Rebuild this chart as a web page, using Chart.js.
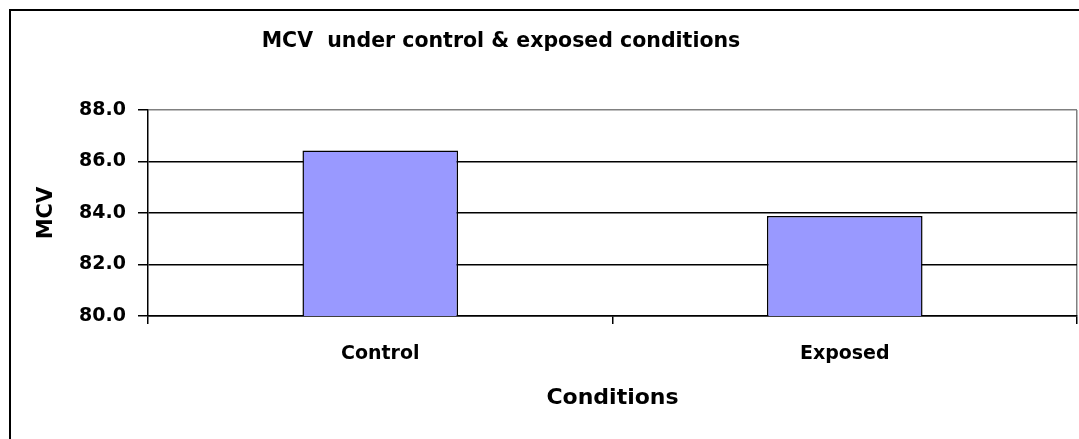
<!DOCTYPE html>
<html>
<head>
<meta charset="utf-8">
<title>MCV under control & exposed conditions</title>
<script src="https://cdn.jsdelivr.net/npm/chart.js@4.4.0/dist/chart.umd.min.js"></script>
<style>
  html, body { margin: 0; padding: 0; background: #fff; }
  canvas { display: block; }
</style>
</head>
<body>
<canvas id="myChart" width="1079" height="439"></canvas>
<script>
const categorias = ['Control', 'Exposed'];
const valoresMCV = [86.43, 83.88];
const tituloGrafica = 'MCV  under control & exposed conditions';
const tituloEjeX = 'Conditions';
const tituloEjeY = 'MCV';

const FUENTE = "'DejaVu Sans', sans-serif";

// marco del grafico y titulo (como en Excel)
const marcoPlugin = {
  id: 'marco',
  beforeDraw(chart) {
    const c = chart.ctx;
    c.save();
    c.fillStyle = '#fff';
    c.fillRect(0, 0, chart.width, chart.height);
    c.strokeStyle = '#000';
    c.lineWidth = 2;
    c.beginPath();
    c.moveTo(10, chart.height);
    c.lineTo(10, 10);
    c.lineTo(chart.width, 10);
    c.stroke();
    c.restore();
  },
  afterDraw(chart) {
    const c = chart.ctx;
    c.save();
    c.fillStyle = '#000';
    c.font = "bold 20.5px " + FUENTE;
    c.textAlign = 'center';
    c.textBaseline = 'middle';
    c.fillText(tituloGrafica, 501, 42);
    c.restore();
  }
};

(() => {
  'use strict'

  const ctx = document.getElementById('myChart')
  // eslint-disable-next-line no-unused-vars
  const myChart = new Chart(ctx, {
    type: 'bar',
    data: {
      labels: categorias,
      datasets: [{
        data: valoresMCV,
        backgroundColor: '#9999FF',
        borderColor: '#000000',
        borderWidth: 1.5,
        barPercentage: 0.335,
        categoryPercentage: 1
      }]
    },
    options: {
      responsive: false,
      animation: false,
      devicePixelRatio: 1,
      layout: {
        padding: { top: 110, right: 2, bottom: 0, left: 0 }
      },
      scales: {
        x: {
          afterFit: (scale) => { scale.height = 123 },
          grid: {
            offset: true,
            drawOnChartArea: true,
            color: (c) => c.type === 'tick' ? 'rgba(0,0,0,0)' : '#808080',
            tickColor: '#000',
            tickLength: 8,
            lineWidth: 1.5
          },
          border: { display: true, color: '#000', width: 1.5 },
          ticks: {
            color: '#000',
            padding: 19,
            font: { family: FUENTE, size: 19, weight: 'bold' }
          },
          title: {
            display: true,
            text: tituloEjeX,
            color: '#000',
            padding: { top: 0, bottom: 28 },
            font: { family: FUENTE, size: 22, weight: 'bold' }
          }
        },
        y: {
          min: 80,
          max: 88,
          afterFit: (scale) => { scale.width = 148 },
          grid: {
            color: (c) => c.tick && c.tick.value === 88 ? '#808080' : '#000',
            tickColor: '#000',
            tickLength: 10,
            lineWidth: 1.5
          },
          border: { display: true, color: '#000', width: 1.5 },
          ticks: {
            stepSize: 2,
            color: '#000',
            padding: 12,
            font: { family: FUENTE, size: 19, weight: 'bold' },
            callback: (v) => Number(v).toFixed(1)
          },
          title: {
            display: true,
            text: tituloEjeY,
            color: '#000',
            padding: { top: 34, bottom: 0 },
            font: { family: FUENTE, size: 21, weight: 'bold' }
          }
        }
      },
      plugins: {
        legend: {
          display: false
        },
        tooltip: {
          enabled: false
        }
      }
    },
    plugins: [marcoPlugin]
  })
})()
</script>
</body>
</html>
